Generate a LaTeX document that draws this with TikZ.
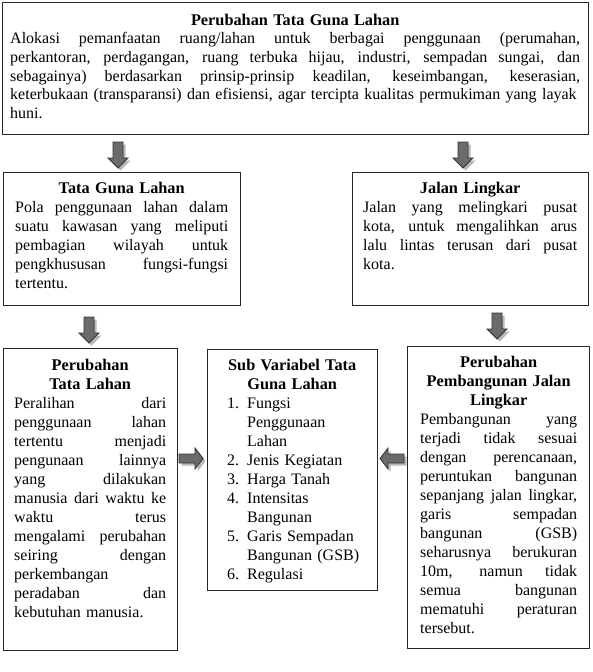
\documentclass[tikz,border=0pt]{standalone}
\usepackage{fontspec}
\setmainfont{Liberation Serif}
\newdimen\tw
\newcommand\J[1]{\leavevmode\hbox to \tw{\spaceskip=0.25em plus 1fil minus 0.1em\relax\strut#1}\\}
\newcommand\C[1]{\leavevmode\hbox to \tw{\hfil\strut{\fontsize{16.3}{19}\selectfont\bfseries#1}\hfil}\\}
\newcommand\Lf[1]{\leavevmode\hbox{\strut#1}}
\newcommand\N[2]{\leavevmode\hbox{\hbox to 20pt{#1\hfil}#2\strut}\\}
\tikzset{
  box/.style={draw=black!85, line width=1.3pt, inner sep=0pt, anchor=north west},
  txt/.style={inner sep=0pt, anchor=north west, align=left, font=\fontsize{16}{19}\selectfont},
  arrfill/.style={fill=black!58, draw=black!80, line width=0.8pt},
  arrshadow/.style={fill=black!28},
  darr/.pic={
    \fill[arrshadow, shift={(2.5,2.5)}] (-5,0) -- (5,0) -- (5,16) -- (10,16) -- (0,26) -- (-10,16) -- (-5,16) -- cycle;
    \path[arrfill] (-5,0) -- (5,0) -- (5,16) -- (10,16) -- (0,26) -- (-10,16) -- (-5,16) -- cycle;
  },
  rarr/.pic={
    \fill[arrshadow, shift={(2.5,2.5)}] (0,-4.5) -- (16,-4.5) -- (16,-10.5) -- (24,0) -- (16,10.5) -- (16,4.5) -- (0,4.5) -- cycle;
    \path[arrfill] (0,-4.5) -- (16,-4.5) -- (16,-10.5) -- (24,0) -- (16,10.5) -- (16,4.5) -- (0,4.5) -- cycle;
  },
  larr/.pic={
    \fill[arrshadow, shift={(2.5,2.5)}] (0,-4.5) -- (-16,-4.5) -- (-16,-10.5) -- (-24,0) -- (-16,10.5) -- (-16,4.5) -- (0,4.5) -- cycle;
    \path[arrfill] (0,-4.5) -- (-16,-4.5) -- (-16,-10.5) -- (-24,0) -- (-16,10.5) -- (-16,4.5) -- (0,4.5) -- cycle;
  }
}
\begin{document}
\begin{tikzpicture}[x=1pt,y=-1pt]
\useasboundingbox[fill=white] (0,0) rectangle (592,672);

% boxes
\node[box, minimum width=586pt, minimum height=132pt] (b0) at (2,2) {};
\node[box, minimum width=237pt, minimum height=133pt] (b1) at (3,172) {};
\node[box, minimum width=236pt, minimum height=133pt] (b2) at (352,172) {};
\node[box, minimum width=174pt, minimum height=302pt] (b3) at (3,348) {};
\node[box, minimum width=170pt, minimum height=241pt] (b4) at (207,349) {};
\node[box, minimum width=182pt, minimum height=302pt] (b5) at (407,346) {};

% texts
\node[txt, text width=570pt, font=\fontsize{16}{18.7}\selectfont] (t0) at (10,11.9) {%
\tw=570pt\relax
\C{Perubahan Tata Guna Lahan}
\J{Alokasi pemanfaatan ruang/lahan untuk berbagai penggunaan (perumahan,}
\J{perkantoran, perdagangan, ruang terbuka hijau, industri, sempadan sungai, dan}
\J{sebagainya) berdasarkan prinsip-prinsip keadilan, keseimbangan, keserasian,}
\Lf{keterbukaan (transparansi) dan efisiensi, agar tercipta kualitas permukiman yang layak}\\
\Lf{huni.}};

\node[txt, text width=213pt] (t1) at (15,179.7) {%
\tw=213pt\relax
\C{Tata Guna Lahan}
\J{Pola penggunaan lahan dalam}
\J{suatu kawasan yang meliputi}
\J{pembagian wilayah untuk}
\J{pengkhususan fungsi-fungsi}
\Lf{tertentu.}};

\node[txt, text width=214pt] (t2) at (363,179.7) {%
\tw=214pt\relax
\C{Jalan Lingkar}
\J{Jalan yang melingkari pusat}
\J{kota, untuk mengalihkan arus}
\J{lalu lintas terusan dari pusat}
\Lf{kota.}};

\node[txt, text width=152pt] (t3) at (14,356.7) {%
\tw=152pt\relax
\C{Perubahan}
\C{Tata Lahan}
\J{Peralihan dari}
\J{penggunaan lahan}
\J{tertentu menjadi}
\J{pengunaan lainnya}
\J{yang dilakukan}
\J{manusia dari waktu ke}
\J{waktu terus}
\J{mengalami perubahan}
\J{seiring dengan}
\Lf{perkembangan}\\
\J{peradaban dan}
\Lf{kebutuhan manusia.}};

\node[txt, text width=130pt] (t4) at (227,356.7) {%
\tw=130pt\relax
\C{Sub Variabel Tata}
\C{Guna Lahan}
\N{1.}{Fungsi}
\N{}{Penggunaan}
\N{}{Lahan}
\N{2.}{Jenis Kegiatan}
\N{3.}{Harga Tanah}
\N{4.}{Intensitas}
\N{}{Bangunan}
\N{5.}{Garis Sempadan}
\N{}{Bangunan (GSB)}
\leavevmode\hbox{\hbox to 20pt{6.\hfil}Regulasi\strut}};

\node[txt, text width=157pt] (t5) at (420,353.7) {%
\tw=157pt\relax
\C{Perubahan}
\C{Pembangunan Jalan}
\C{Lingkar}
\J{Pembangunan yang}
\J{terjadi tidak sesuai}
\J{dengan perencanaan,}
\J{peruntukan bangunan}
\J{sepanjang jalan lingkar,}
\J{garis sempadan}
\J{bangunan (GSB)}
\J{seharusnya berukuran}
\J{10m, namun tidak}
\J{semua bangunan}
\J{mematuhi peraturan}
\Lf{tersebut.}};

% block arrows
\pic (a1) at (118,142) {darr};
\pic (a2) at (463,142) {darr};
\pic (a3) at (89,317) {darr};
\pic (a4) at (497,313) {darr};
\pic (a5) at (179,458.5) {rarr};
\pic (a6) at (404,458.5) {larr};
\end{tikzpicture}
\end{document}
